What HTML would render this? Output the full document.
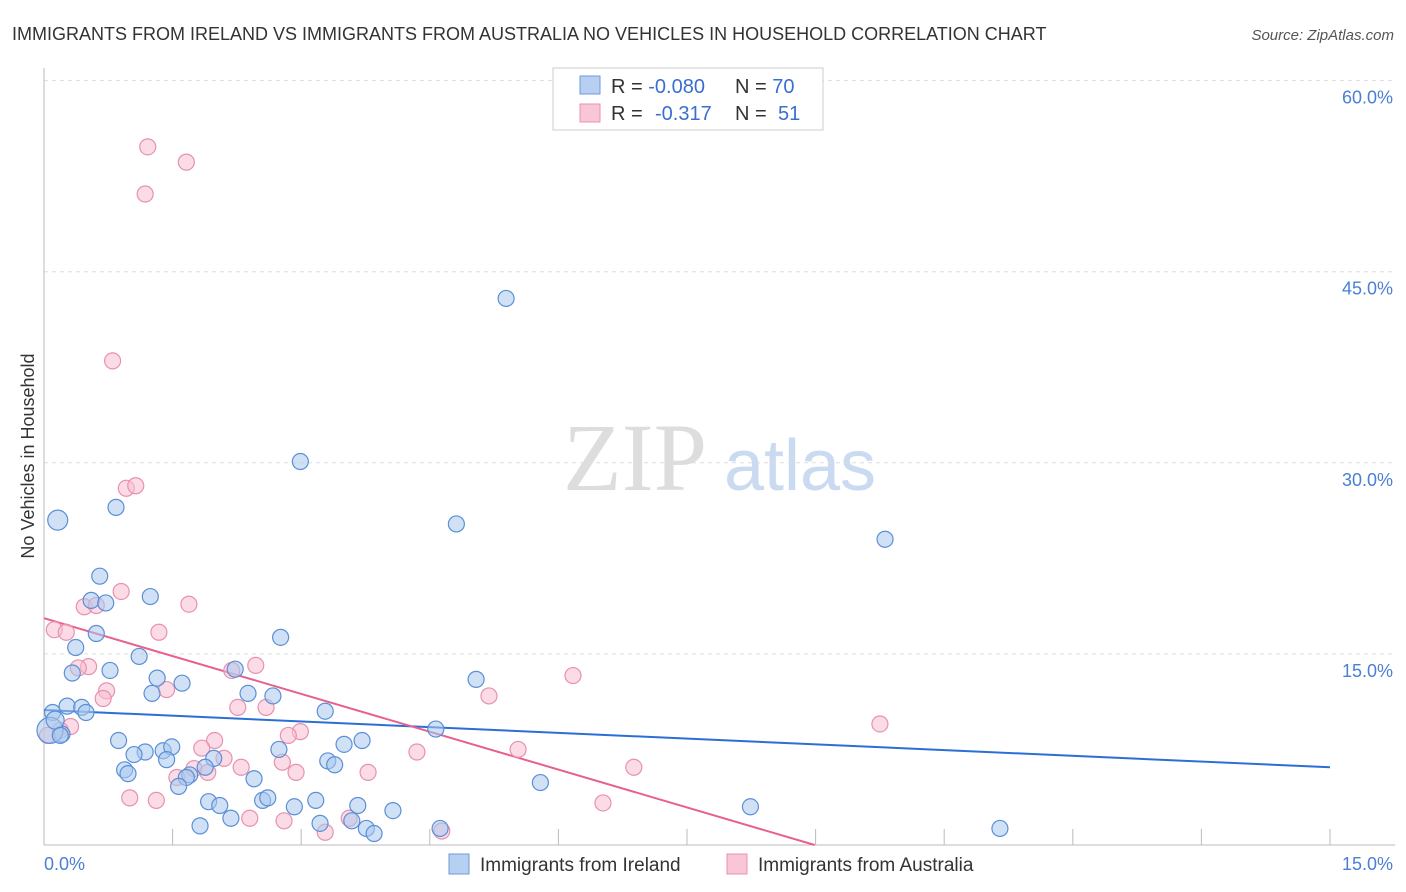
<!DOCTYPE html>
<html><head><meta charset="utf-8"><style>
body{margin:0;background:#fff;font-family:"Liberation Sans",sans-serif;}
svg{display:block}
</style></head><body>
<svg id="chart" width="1406" height="892">
<text x="12" y="40" font-size="18" fill="#333">IMMIGRANTS FROM IRELAND VS IMMIGRANTS FROM AUSTRALIA NO VEHICLES IN HOUSEHOLD CORRELATION CHART</text>
<text x="1394" y="40" font-size="15" fill="#555" font-style="italic" text-anchor="end">Source: ZipAtlas.com</text>
<text x="34" y="456" font-size="18" fill="#333" text-anchor="middle" transform="rotate(-90 34 456)">No Vehicles in Household</text>
<g>
<text x="635" y="490" font-size="96" fill="#ddd" font-family="Liberation Serif,serif" text-anchor="middle">ZIP</text>
<text x="800" y="490" font-size="72" fill="#c9daf1" text-anchor="middle">atlas</text>
</g>
<g id="grid"></g><g id="axes"></g><g id="lines"></g><g id="pts"></g>
<g>
<rect x="553" y="68" width="270" height="62" fill="#fff" stroke="#ccc"/>
<rect x="580" y="76" width="20" height="18" fill="#b7d0f2" stroke="#6c9ad8"/>
<rect x="580" y="104" width="20" height="18" fill="#f8c6d6" stroke="#e891ae"/>
<text x="611" y="93" font-size="20" fill="#333">R = <tspan fill="#3a6fd0">-0.080</tspan><tspan x="735">N = </tspan><tspan fill="#3a6fd0">70</tspan></text>
<text x="611" y="120" font-size="20" fill="#333">R = <tspan x="655" fill="#3a6fd0">-0.317</tspan><tspan x="735">N = </tspan><tspan x="778" fill="#3a6fd0">51</tspan></text>
</g>
<g>
<rect x="449" y="854" width="20" height="20" fill="#b7d0f2" stroke="#6c9ad8"/>
<text x="480" y="871" font-size="19" fill="#333">Immigrants from Ireland</text>
<rect x="727" y="854" width="20" height="20" fill="#f8c6d6" stroke="#e891ae"/>
<text x="758" y="871" font-size="19" fill="#333">Immigrants from Australia</text>
</g>
</svg>
<script>
const yTicks=[15,30,45,60];
const yTickLabels=["15.0%","30.0%","45.0%","60.0%"];
const xTickLabels=["0.0%","15.0%"];
const irelandX=[5.39,2.99,4.81,9.81,0.16,0.84,0.65,0.55,0.72,1.24,2.76,0.61,0.37,1.11,0.77,0.33,1.32,1.61,1.26,2.23,2.38,2.67,5.04,0.10,0.27,0.44,0.49,3.28,0.21,4.57,0.87,1.18,1.05,1.39,1.49,1.43,1.98,2.74,3.50,3.71,3.31,3.39,0.94,0.98,1.88,1.70,1.66,1.57,2.45,5.79,1.92,2.05,2.55,2.61,2.92,3.17,3.66,4.07,2.18,1.82,3.22,3.59,3.76,3.85,4.62,8.24,11.15,0.07,0.13,0.19];
const irelandY=[42.9,30.1,25.2,24.0,25.5,26.5,21.1,19.2,19.0,19.5,16.3,16.6,15.5,14.8,13.7,13.5,13.1,12.7,11.9,13.8,11.9,11.7,13.0,10.4,10.9,10.8,10.4,10.5,8.7,9.1,8.2,7.3,7.1,7.4,7.7,6.7,6.8,7.5,7.9,8.2,6.6,6.3,5.9,5.6,6.1,5.5,5.3,4.6,5.2,4.9,3.4,3.1,3.5,3.7,3.0,3.5,3.1,2.7,2.1,1.5,1.7,1.9,1.3,0.9,1.3,3.0,1.3,9.0,9.8,8.6];
const irelandR=[8,8,8,8,10,8,8,8,8,8,8,8,8,8,8,8,8,8,8,8,8,8,8,8,8,8,8,8,8,8,8,8,8,8,8,8,8,8,8,8,8,8,8,8,8,8,8,8,8,8,8,8,8,8,8,8,8,8,8,8,8,8,8,8,8,8,8,13,9,8];
const ausX=[1.21,1.66,1.18,0.80,0.96,1.07,0.90,1.69,0.47,0.61,0.12,0.26,1.34,0.52,0.40,2.47,2.19,0.73,0.69,1.43,5.19,6.17,2.26,2.59,9.75,0.31,2.99,2.85,1.99,1.84,4.35,5.53,2.10,2.30,2.78,2.94,3.78,6.88,1.55,1.75,1.91,1.00,1.31,6.52,2.40,2.80,3.56,3.28,4.64,0.04,0.19];
const ausY=[54.8,53.6,51.1,38.0,28.0,28.2,19.9,18.9,18.7,18.8,16.9,16.7,16.7,14.0,13.9,14.1,13.7,12.1,11.5,12.2,11.7,13.3,10.8,10.8,9.5,9.3,8.9,8.6,8.2,7.6,7.3,7.5,6.8,6.1,6.5,5.7,5.7,6.1,5.3,6.0,5.7,3.7,3.5,3.3,2.1,1.9,2.1,1.0,1.1,8.6,9.0];
const irelandTrend=[10.6,6.1];
const ausTrend=[17.8,-1.98];
const NS="http://www.w3.org/2000/svg";
const X0=44,X1=1330,Y0=845,YPX=12.74;
const xs=v=>X0+v*(X1-X0)/15;
const ys=v=>Y0-v*YPX;
function mk(t,a,p){const e=document.createElementNS(NS,t);for(const k in a)e.setAttribute(k,a[k]);p.appendChild(e);return e;}
const grid=document.getElementById('grid'),axes=document.getElementById('axes'),lines=document.getElementById('lines'),pts=document.getElementById('pts');
yTicks.forEach((v,i)=>{
 const l=mk('line',{x1:X0,x2:1395,y1:ys(v),y2:ys(v),stroke:'#ddd','stroke-dasharray':'4,4'},grid);
 
 
 const t=mk('text',{x:1393,y:ys(v)+23,'font-size':18,fill:'#4a7fd4','text-anchor':'end'},grid);
 t.textContent=yTickLabels[i];
 
 
});
const ax=mk('line',{x1:X0,x2:X0,y1:68,y2:Y0,stroke:'#bbb'},axes);


const bx=mk('line',{x1:X0,x2:1395,y1:Y0,y2:Y0,stroke:'#bbb'},axes);


for(let i=0;i<=10;i++){const v=i*1.5;
 const tk=mk('line',{x1:xs(v),x2:xs(v),y1:829,y2:Y0,stroke:'#bbb'},axes);
 
 
}
[[0,'start',44],[15,'end',1393]].forEach((d,i)=>{
 const t=mk('text',{x:d[2],y:870,'font-size':18,fill:'#4a7fd4','text-anchor':d[1]},axes);
 t.textContent=xTickLabels[i];
 
 
});
function drawPts(X,Y,R,fill,stroke,name){X.forEach((x,i)=>{
 const c=mk('circle',{cx:xs(x),cy:ys(Y[i]),r:R?R[i]:8,fill:fill,'fill-opacity':0.55,stroke:stroke,'stroke-width':1.2},pts);
 
 
});}
drawPts(ausX,ausY,null,'#f8bfd2','#e891ae','point-australia');
drawPts(irelandX,irelandY,irelandR,'#a9c8ee','#5b8fd6','point-ireland');
const bl=mk('line',{x1:xs(0),y1:ys(irelandTrend[0]),x2:xs(15),y2:ys(irelandTrend[1]),stroke:'#2b6fd6','stroke-width':2},lines);


const xe=-ausTrend[0]/ausTrend[1];
const pl=mk('line',{x1:xs(0),y1:ys(ausTrend[0]),x2:xs(xe),y2:ys(0),stroke:'#e8608e','stroke-width':2},lines);


</script>
</body></html>
